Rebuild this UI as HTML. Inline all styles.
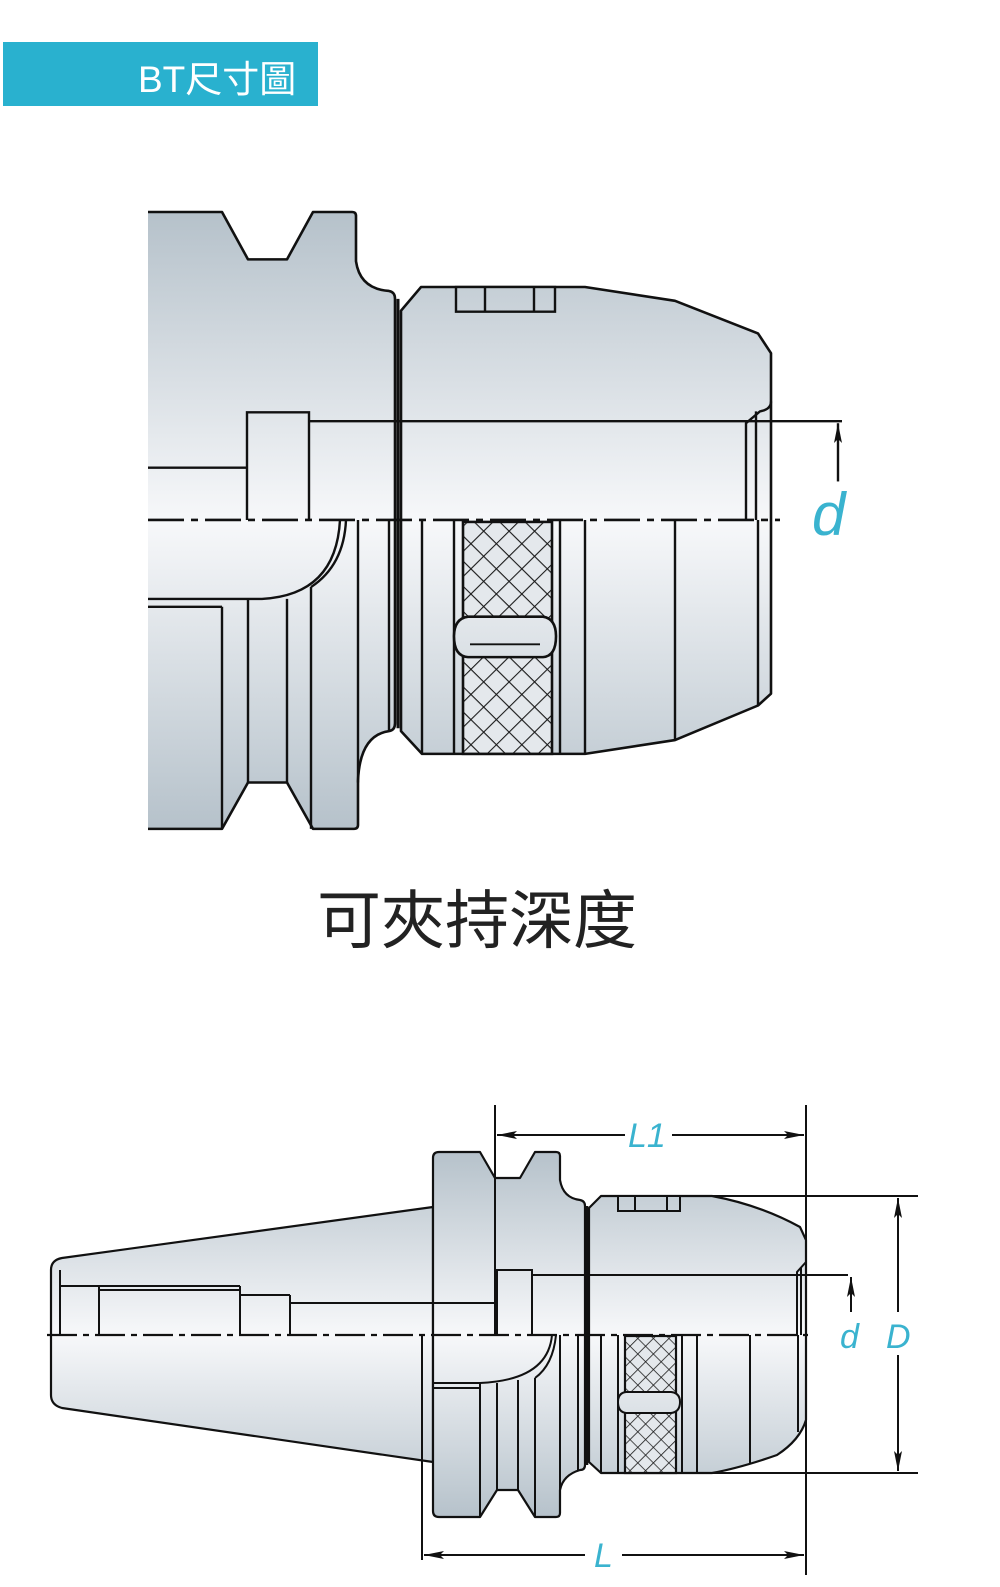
<!DOCTYPE html>
<html><head><meta charset="utf-8"><style>
html,body{margin:0;padding:0;background:#fff;}
svg{display:block;}
</style></head><body>
<svg width="1000" height="1587" viewBox="0 0 1000 1587" xmlns="http://www.w3.org/2000/svg">
<defs>
<linearGradient id="g1" gradientUnits="userSpaceOnUse" x1="0" y1="210" x2="0" y2="840">
<stop offset="0" stop-color="#b5c1ca"/><stop offset="0.5" stop-color="#f7f8fa"/><stop offset="1" stop-color="#b5c1ca"/></linearGradient>
<linearGradient id="g2" gradientUnits="userSpaceOnUse" x1="0" y1="1150" x2="0" y2="1520">
<stop offset="0" stop-color="#b5c1ca"/><stop offset="0.5" stop-color="#f7f8fa"/><stop offset="1" stop-color="#b5c1ca"/></linearGradient>
<pattern id="kn" width="18" height="18" patternUnits="userSpaceOnUse" patternTransform="rotate(45)">
<rect width="18" height="18" fill="#e4e8ec"/>
<path d="M0,0H18M0,0V18" stroke="#1a1a1a" stroke-width="2.2"/></pattern>
<pattern id="kn2" width="11" height="11" patternUnits="userSpaceOnUse" patternTransform="rotate(45)">
<rect width="11" height="11" fill="#e4e8ec"/>
<path d="M0,0H11M0,0V11" stroke="#1a1a1a" stroke-width="1.6"/></pattern>
<marker id="ar2" viewBox="0 0 20 10" refX="20" refY="5" markerWidth="22" markerHeight="10" orient="auto-start-reverse" markerUnits="userSpaceOnUse">
<path d="M0,1 L20,5 L0,9 L4,5 Z" fill="#111"/></marker>
</defs>

<!-- header -->
<rect x="3" y="42" width="315" height="64" fill="#29b1cf"/>
<text x="138" y="92" font-family="Liberation Sans, 'Noto Sans CJK TC', sans-serif" font-size="37" fill="#fff">BT尺寸圖</text>

<!-- ===== TOP DIAGRAM ===== -->
<g transform="translate(0,212) scale(1,0.987) translate(0,-212)">
<g stroke="#111" stroke-width="2.6" fill="url(#g1)" stroke-linejoin="round">
<path d="M148,212 L222,212 L248,260 L287,260 L313,212 L352,212 Q356,212 356,216 L356,262 Q360,290 389,292 Q395,293 395,300 L395,730 Q395,737 389,738 Q360,742 358,788 L358,833 Q358,837 354,837 L313,837 L287,790 L248,790 L222,837 L148,837"/>
<path d="M401,312 L421,288 L585,288 L675,302 L758,335 L771,355 L771,700 L758,712 L675,747 L585,761 L422,761 L401,738 Z"/>
</g>
<g stroke="#111" stroke-width="2.4" fill="none">
<line x1="398" y1="300" x2="398" y2="735" stroke-width="3"/>
<rect x="456" y="288" width="99" height="25" fill="url(#g1)"/>
<line x1="485" y1="288" x2="485" y2="313"/><line x1="534" y1="288" x2="534" y2="313"/>
<line x1="148" y1="471" x2="247" y2="471"/>
<path d="M247,524 L247,415 L309,415 L309,524" fill="url(#g1)"/>
<line x1="309" y1="424" x2="842" y2="424"/>
<path d="M771,404 Q771,412 760,414 L746,426 L746,524"/>
<line x1="756" y1="414" x2="756" y2="524"/>
<path d="M148,604 L262,604 Q336,600 340,524"/>
<path d="M311,592 Q344,570 346,524"/>
<line x1="148" y1="612" x2="222" y2="612"/>
<line x1="222" y1="612" x2="222" y2="837"/>
<line x1="248" y1="604" x2="248" y2="790"/>
<line x1="287" y1="604" x2="287" y2="790"/>
<line x1="311" y1="592" x2="311" y2="837"/>
<line x1="358" y1="524" x2="358" y2="790"/>
<line x1="389" y1="524" x2="389" y2="738"/>
<line x1="422" y1="524" x2="422" y2="761"/>
<line x1="454" y1="524" x2="454" y2="761"/>
<line x1="560" y1="524" x2="560" y2="761"/>
<line x1="585" y1="524" x2="585" y2="761"/>
<line x1="675" y1="524" x2="675" y2="747"/>
<line x1="758" y1="524" x2="758" y2="712"/>
</g>
<rect x="463" y="526" width="89" height="235" fill="url(#kn)" stroke="#111" stroke-width="2.6"/>
<path d="M468,622 L543,622 Q556,624 556,642 Q556,662 543,663 L468,663 Q454,662 454,642 Q454,624 468,622 Z" fill="url(#g1)" stroke="#111" stroke-width="2.6"/>
<line x1="470" y1="650" x2="540" y2="650" stroke="#111" stroke-width="2"/>
<line x1="148" y1="524" x2="780" y2="524" stroke="#111" stroke-width="2.6" stroke-dasharray="36,7,7,7"/>
<line x1="838" y1="485" x2="838" y2="426" stroke="#111" stroke-width="2.4" marker-end="url(#ar2)"/>
</g>
<text x="812" y="535" font-family="Liberation Sans, sans-serif" font-style="italic" font-size="60" fill="#3ab3cf">d</text>

<text x="477" y="943" text-anchor="middle" font-family="Liberation Sans, 'Noto Sans CJK TC', sans-serif" font-size="64" fill="#222">可夾持深度</text>

<!-- ===== BOTTOM DIAGRAM ===== -->
<g stroke="#111" stroke-width="2.2" fill="url(#g2)" stroke-linejoin="round">
<path d="M62,1258 L433,1207 L433,1462 L62,1408 Q51,1405 51,1395 L51,1270 Q51,1260 62,1258 Z"/>
<path d="M433,1158 Q433,1152 439,1152 L480,1152 L495,1178 L520,1178 L535,1152 L556,1152 Q560,1152 560,1156 L560,1180 Q563,1198 580,1200 Q585,1201 585,1206 L585,1465 Q585,1470 580,1470 Q563,1475 560,1490 L560,1513 Q560,1517 556,1517 L535,1517 L518,1490 L497,1490 L480,1517 L439,1517 Q433,1517 433,1511 Z"/>
<path d="M589,1208 L601,1196 L712,1196 Q760,1205 800,1227 L806,1240 L806,1420 Q800,1440 777,1455 Q740,1468 712,1473 L601,1473 L589,1462 Z"/>
</g>
<g stroke="#111" stroke-width="2" fill="none">
<line x1="587" y1="1206" x2="587" y2="1465" stroke-width="2.6"/>
<rect x="618" y="1196" width="62" height="15" fill="url(#g2)"/>
<line x1="635" y1="1196" x2="635" y2="1211"/><line x1="667" y1="1196" x2="667" y2="1211"/>
<line x1="60" y1="1270" x2="60" y2="1335"/>
<line x1="99" y1="1286" x2="99" y2="1335"/>
<line x1="60" y1="1286" x2="240" y2="1286"/>
<line x1="99" y1="1290" x2="240" y2="1290"/>
<line x1="240" y1="1286" x2="240" y2="1335"/>
<line x1="240" y1="1295" x2="290" y2="1295"/>
<line x1="290" y1="1295" x2="290" y2="1335"/>
<line x1="290" y1="1303" x2="497" y2="1303"/>
<line x1="495" y1="1152" x2="495" y2="1335"/>
<path d="M497,1335 L497,1270 L532,1270 L532,1335" fill="url(#g2)"/>
<line x1="532" y1="1275" x2="848" y2="1275"/>
<path d="M806,1262 L797,1272 L797,1335"/>
<line x1="801" y1="1268" x2="801" y2="1335"/>
<line x1="422" y1="1335" x2="422" y2="1560"/>
<line x1="433" y1="1335" x2="433" y2="1462"/>
<path d="M433,1383 L480,1383 Q548,1380 552,1335"/>
<path d="M535,1378 Q553,1365 556,1335"/>
<line x1="433" y1="1388" x2="480" y2="1388"/>
<line x1="480" y1="1383" x2="480" y2="1517"/>
<line x1="497" y1="1383" x2="497" y2="1490"/>
<line x1="518" y1="1380" x2="518" y2="1490"/>
<line x1="535" y1="1378" x2="535" y2="1517"/>
<line x1="560" y1="1335" x2="560" y2="1490"/>
<line x1="578" y1="1335" x2="578" y2="1470"/>
<line x1="601" y1="1335" x2="601" y2="1473"/>
<line x1="618" y1="1335" x2="618" y2="1473"/>
<line x1="682" y1="1335" x2="682" y2="1473"/>
<line x1="697" y1="1335" x2="697" y2="1473"/>
<line x1="750" y1="1335" x2="750" y2="1463"/>
<line x1="798" y1="1335" x2="798" y2="1432"/>
</g>
<rect x="625" y="1336" width="51" height="137" fill="url(#kn2)" stroke="#111" stroke-width="2.2"/>
<path d="M626,1392 L671,1392 Q680,1393 680,1402 Q680,1412 671,1413 L626,1413 Q618,1412 618,1402 Q618,1393 626,1392 Z" fill="url(#g2)" stroke="#111" stroke-width="2"/>
<line x1="47" y1="1335" x2="808" y2="1335" stroke="#111" stroke-width="2.2" stroke-dasharray="30,6,6,6"/>

<g stroke="#111" stroke-width="2" fill="none">
<line x1="495" y1="1105" x2="495" y2="1152"/>
<line x1="806" y1="1105" x2="806" y2="1575"/>
<line x1="625" y1="1135" x2="497" y2="1135" marker-end="url(#ar2)"/>
<line x1="672" y1="1135" x2="804" y2="1135" marker-end="url(#ar2)"/>
<line x1="585" y1="1555" x2="424" y2="1555" marker-end="url(#ar2)"/>
<line x1="622" y1="1555" x2="804" y2="1555" marker-end="url(#ar2)"/>
<line x1="712" y1="1196" x2="918" y2="1196"/>
<line x1="712" y1="1473" x2="918" y2="1473"/>
<line x1="898" y1="1312" x2="898" y2="1198" marker-end="url(#ar2)"/>
<line x1="898" y1="1355" x2="898" y2="1471" marker-end="url(#ar2)"/>
<line x1="851" y1="1312" x2="851" y2="1277" marker-end="url(#ar2)"/>
</g>
<g font-family="Liberation Sans, sans-serif" font-style="italic" font-size="34" fill="#3ab3cf">
<text x="628" y="1147">L1</text>
<text x="594" y="1567">L</text>
<text x="840" y="1348">d</text>
<text x="886" y="1348">D</text>
</g>
</svg>
</body></html>
